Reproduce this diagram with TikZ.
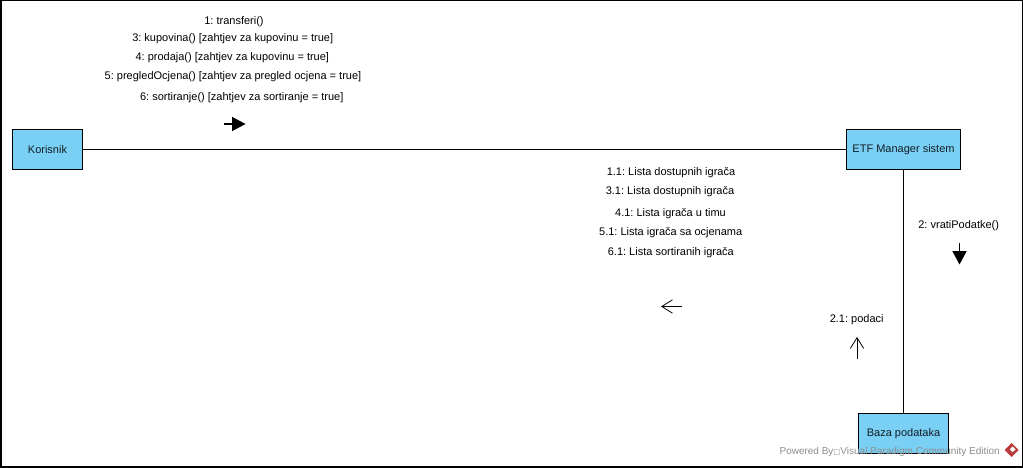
\documentclass[tikz,border=0pt]{standalone}
\usepackage{fontspec}
\setmainfont{Liberation Sans}
\newfontfamily\symfont{DejaVu Sans}
\usetikzlibrary{arrows.meta}
\definecolor{boxblue}{HTML}{7ACFF5}
\definecolor{markred}{HTML}{B83A3A}
\definecolor{markgray}{HTML}{8C8C8C}
\frenchspacing
\begin{document}
\begin{tikzpicture}[x=0.75pt,y=-0.75pt]
      \tikzset{every node/.style={font=\fontsize{8.25pt}{10pt}\selectfont,inner sep=0pt}}
      \tikzset{objbox/.style={draw,fill=boxblue,line width=0.9pt,text=black!85!boxblue,anchor=center}}
      \tikzset{solidmsg/.style={-{Triangle[length=10pt,width=10.5pt]},line width=0.8pt}}
      \tikzset{openmsg/.style={-{Straight Barb[length=8pt,width=10pt]},line width=0.6pt}}
      \useasboundingbox (0,0) rectangle (1023,467);
      \draw[line width=1.5pt] (0.5,0.5) rectangle (1022.5,466.5);

      % objects
      \node[objbox,minimum width=52.5pt,minimum height=30pt] (korisnik) at (47.5,149.5) {Korisnik};
      \node[objbox,minimum width=85.5pt,minimum height=30pt] (etf) at (903.5,149.5) {ETF Manager sistem};
      \node[objbox,minimum width=67.5pt,minimum height=30pt] (baza) at (903.5,433.5) {Baza podataka};

      \draw[line width=0.8pt] (korisnik) -- (etf);
      \draw[line width=0.8pt] (etf) -- (baza);

      % messages
      \node (m1) at (234,21.5) {1: transferi()};
      \node (m3) at (232.7,38.5) {3: kupovina() [zahtjev za kupovinu = true]};
      \node (m4) at (232.3,57.5) {4: prodaja() [zahtjev za kupovinu = true]};
      \node (m5) at (233,76.5) {5: pregledOcjena() [zahtjev za pregled ocjena = true]};
      \node (m6) at (241.7,97.5) {6: sortiranje() [zahtjev za sortiranje = true]};

      \node (r1) at (671,172.5) {1.1: Lista dostupnih igrača};
      \node (r3) at (670,191.5) {3.1: Lista dostupnih igrača};
      \node (r4) at (670.5,214) {4.1: Lista igrača u timu};
      \node (r5) at (670.7,233) {5.1: Lista igrača sa ocjenama};
      \node (r6) at (670.8,252.5) {6.1: Lista sortiranih igrača};

      \node (m2) at (958.7,225.5) {2: vratiPodatke()};
      \node (r2) at (856.7,319.5) {2.1: podaci};

      % direction arrows
      \coordinate (a1) at (224,124);   \coordinate (b1) at (245.5,124);
      \coordinate (a2) at (959.5,243); \coordinate (b2) at (959.5,264.5);
      \coordinate (a3) at (682,306.5); \coordinate (b3) at (661,306.5);
      \coordinate (a4) at (857,359);   \coordinate (b4) at (857,337);
      \draw[solidmsg] (a1) -- (b1);
      \draw[solidmsg] (a2) -- (b2);
      \draw[openmsg] (a3) -- (b3);
      \draw[openmsg] (a4) -- (b4);

      % watermark
      \node[text=markgray,anchor=west,font=\fontsize{7.5pt}{9pt}\selectfont] (wm) at (779.3,451.5) {Powered By{\symfont\fontsize{5.5pt}{6pt}\selectfont □}Visual Paradigm Community Edition};
      \fill[markred] (1011.7,443) -- (1018.7,450) -- (1011.7,457) -- (1004.7,450) -- cycle;
      \fill[white] (1012.5,446.5) -- (1015.5,449.5) -- (1012.5,452) -- (1009.8,449.5) -- cycle;
\end{tikzpicture}
\end{document}
